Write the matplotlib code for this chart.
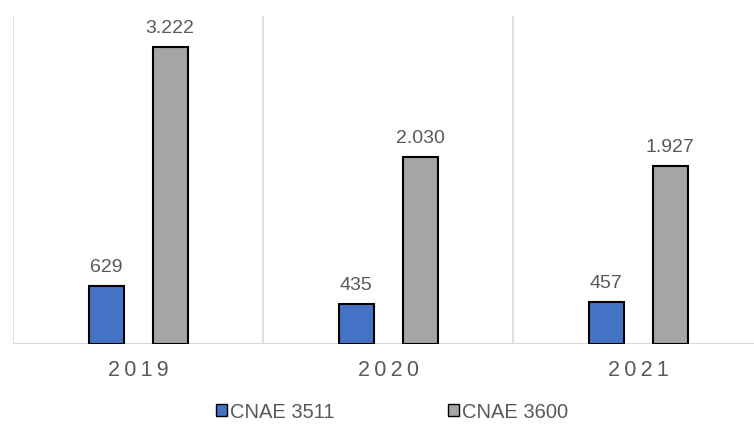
import matplotlib
matplotlib.use("Agg")
import matplotlib.pyplot as plt
import numpy as np
from matplotlib.patches import Patch

plt.rcParams['font.family'] = ['Liberation Sans', 'DejaVu Sans']

years = ["2019", "2020", "2021"]
cnae_3511 = [629, 435, 457]
cnae_3600 = [3222, 2030, 1927]
series_names = ["CNAE 3511", "CNAE 3600"]

blue = "#4472C4"
gray = "#A5A5A5"
text_gray = "#595959"
grid_gray = "#D9D9D9"

fig = plt.figure(figsize=(7.54, 4.31), dpi=100)
ax = fig.add_axes([13 / 754, 86 / 431, 750 / 754, 328 / 431])

x = np.arange(len(years))
offset = 0.128
width = 0.14

b1 = ax.bar(x - offset, cnae_3511, width, color=blue, edgecolor="black", linewidth=1.5, zorder=3)
b2 = ax.bar(x + offset, cnae_3600, width, color=gray, edgecolor="black", linewidth=1.5, zorder=3)

def fmt(v):
    return f"{v:,}".replace(",", ".")

for bars, vals in ((b1, cnae_3511), (b2, cnae_3600)):
    for rect, v in zip(bars, vals):
        ax.annotate(fmt(v), (rect.get_x() + rect.get_width() / 2, v),
                    xytext=(0, 8), textcoords="offset points",
                    ha="center", va="bottom", fontsize=14, color=text_gray)

ax.set_xlim(-0.5, len(years) - 0.5)
ax.set_ylim(0, 3560)

# category separators
for b in np.arange(len(years) + 1) - 0.5:
    ax.axvline(b, color=grid_gray, linewidth=1.2, zorder=1)

for s in ax.spines.values():
    s.set_visible(False)
ax.axhline(0, color=grid_gray, linewidth=1.5, zorder=2)

ax.set_yticks([])
ax.set_xticks(x)
ax.set_xticklabels(["\u2009".join(y) for y in years], fontsize=15.5, color=text_gray)
ax.tick_params(axis="x", length=0, pad=11)

handles = [Patch(facecolor=blue, edgecolor="black", linewidth=1.0),
           Patch(facecolor=gray, edgecolor="black", linewidth=1.0)]
fig.legend(handles, series_names, loc="center", bbox_to_anchor=(392 / 754, 1 - 413 / 431),
           ncol=2, frameon=False, fontsize=14.5, labelcolor=text_gray,
           handlelength=0.55, handleheight=0.55, handletextpad=0.15, columnspacing=5.6)

fig.savefig("out.png", dpi=100)
